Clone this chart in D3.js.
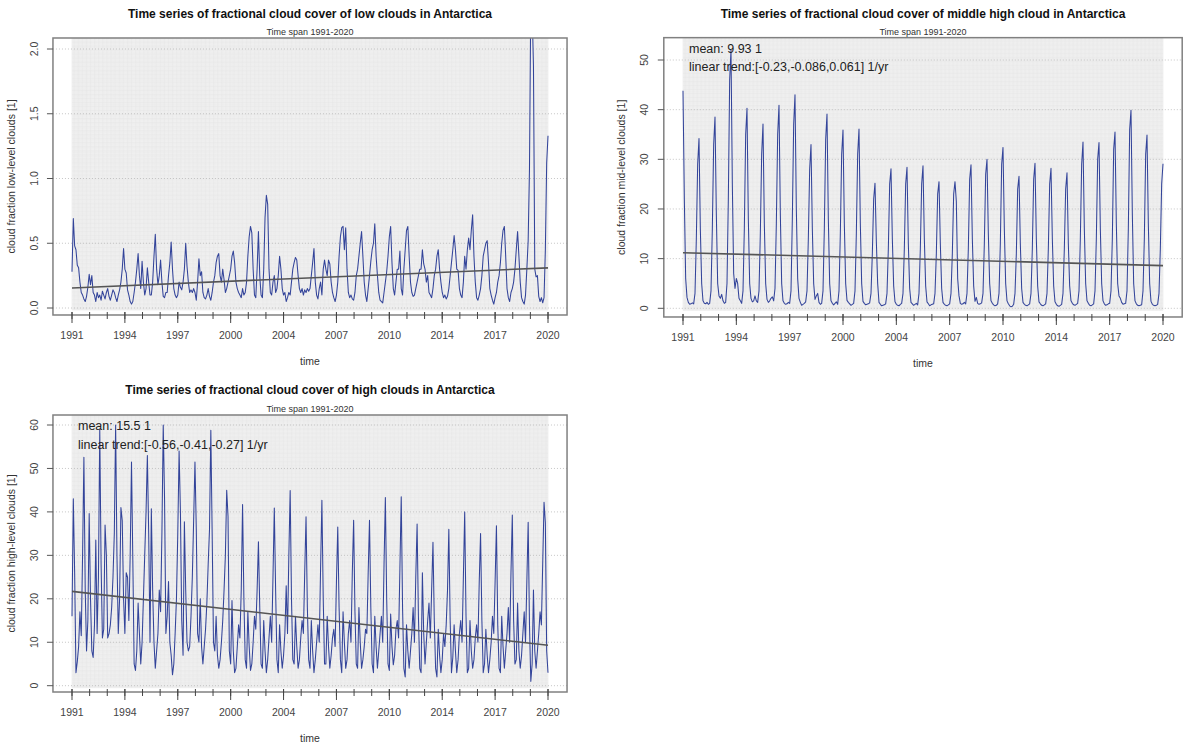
<!DOCTYPE html>
<html>
<head>
<meta charset="utf-8">
<script src="https://cdn.jsdelivr.net/npm/d3@7"></script>
<style>
  body { margin: 0; background: #fff; }
  svg { font-family: "Liberation Sans", Arial, sans-serif; }
</style>
</head>
<body>
<svg id="chart" width="1184" height="747"></svg>
<script>
// ============ data (monthly values, one row per year) ============ //
const xTickLabels = ["1991", "1994", "1997", "2000", "2004", "2007", "2010", "2014", "2017", "2020"];

const lowClouds = [
  0.28, 0.69, 0.48, 0.45, 0.33, 0.31, 0.2, 0.12, 0.1, 0.07, 0.05, 0.09,
  0.16, 0.26, 0.18, 0.25, 0.12, 0.1, 0.05, 0.12, 0.08, 0.1, 0.06, 0.13,
  0.1, 0.07, 0.12, 0.15, 0.09, 0.06, 0.1, 0.14, 0.12, 0.08, 0.05, 0.1,
  0.14, 0.2, 0.3, 0.46, 0.3, 0.27, 0.14, 0.1, 0.05, 0.03, 0.05, 0.12,
  0.2, 0.3, 0.42, 0.25, 0.15, 0.36, 0.2, 0.1, 0.15, 0.31, 0.2, 0.1,
  0.1, 0.2, 0.4, 0.57, 0.3, 0.18, 0.25, 0.37, 0.2, 0.09, 0.08, 0.12,
  0.12, 0.25, 0.35, 0.51, 0.3, 0.15, 0.1, 0.08, 0.1, 0.2, 0.16, 0.14,
  0.2, 0.3, 0.5, 0.32, 0.2, 0.12, 0.14, 0.12, 0.15, 0.12, 0.06, 0.2,
  0.38, 0.25, 0.28, 0.12, 0.08, 0.07, 0.1, 0.15, 0.09, 0.06, 0.12, 0.2,
  0.25, 0.35, 0.4, 0.42, 0.25, 0.2, 0.3, 0.22, 0.12, 0.15, 0.2, 0.25,
  0.3, 0.4, 0.44, 0.35, 0.2, 0.15, 0.12, 0.1, 0.08, 0.15, 0.1, 0.12,
  0.2, 0.4, 0.55, 0.63, 0.58, 0.3, 0.1, 0.08, 0.3, 0.59, 0.25, 0.1,
  0.08, 0.3, 0.7, 0.87, 0.8, 0.3, 0.12, 0.1, 0.2, 0.25, 0.12, 0.15,
  0.25, 0.4, 0.3, 0.15, 0.1, 0.12, 0.05, 0.08, 0.12, 0.1, 0.2, 0.3,
  0.35, 0.39, 0.37, 0.25, 0.15, 0.12, 0.15, 0.1, 0.14, 0.12, 0.15, 0.13,
  0.15, 0.25, 0.35, 0.46, 0.2, 0.1, 0.07, 0.15, 0.2, 0.1, 0.3, 0.37,
  0.3, 0.25, 0.37, 0.34, 0.2, 0.12, 0.08, 0.05, 0.1, 0.2, 0.4, 0.55,
  0.62, 0.63, 0.45, 0.62, 0.3, 0.12, 0.08, 0.1, 0.07, 0.06, 0.12, 0.25,
  0.3, 0.4, 0.5, 0.59, 0.4, 0.2, 0.1, 0.05, 0.15, 0.25, 0.36, 0.45,
  0.5, 0.65, 0.4, 0.25, 0.12, 0.06, 0.05, 0.04, 0.12, 0.2, 0.28, 0.4,
  0.55, 0.63, 0.35, 0.15, 0.1, 0.2, 0.3, 0.3, 0.44, 0.15, 0.1, 0.3,
  0.45, 0.6, 0.63, 0.4, 0.2, 0.12, 0.09, 0.1, 0.15, 0.2, 0.25, 0.3,
  0.3, 0.45, 0.34, 0.3, 0.2, 0.25, 0.12, 0.1, 0.08, 0.15, 0.25, 0.3,
  0.4, 0.45, 0.3, 0.2, 0.12, 0.08, 0.1, 0.07, 0.09, 0.15, 0.25, 0.35,
  0.45, 0.56, 0.45, 0.3, 0.29, 0.15, 0.1, 0.08, 0.2, 0.4, 0.3, 0.45,
  0.54, 0.45, 0.6, 0.72, 0.4, 0.2, 0.08, 0.06, 0.1, 0.15, 0.25, 0.4,
  0.45, 0.5, 0.52, 0.35, 0.15, 0.1, 0.06, 0.03, 0.08, 0.12, 0.2, 0.25,
  0.35, 0.5, 0.6, 0.63, 0.4, 0.15, 0.08, 0.05, 0.12, 0.15, 0.2, 0.3,
  0.45, 0.59, 0.4, 0.2, 0.08, 0.05, 0.03, 0.1, 0.3, 0.52, 1.08, 2.4,
  2.3, 1.87, 0.3, 0.24, 0.25, 0.09, 0.05, 0.08, 0.04, 0.08, 0.45, 1.12,
  1.33
];

const midClouds = [
  43.8, 22, 6, 2.2, 1.2, 0.8, 0.9, 1.1, 0.9, 3, 14, 29,
  34.2, 16, 5, 1.5, 1.0, 0.9, 1.2, 0.8, 1.0, 3.5, 16, 33,
  38.5, 19, 5, 2.5, 2.0, 2.8, 1.5, 1.0, 1.2, 5, 22, 46,
  52, 25, 7, 4, 6, 5, 2, 1.5, 1.0, 3.5, 16, 35,
  40.3, 18, 5, 2, 1.3, 1.5, 2.5, 1.5, 1.2, 3.5, 15, 31,
  37.1, 17, 5, 1.8, 1.2, 1.5, 2, 2.3, 1.5, 4, 17, 35,
  40.9, 19, 5, 1.5, 1.0, 0.8, 0.9, 1.2, 1.0, 3.5, 18, 37,
  43, 20, 6, 2, 1.2, 0.6, 0.8, 1.0, 1.3, 3.5, 14, 28,
  33, 16, 5, 1.8, 2.5, 3, 1.2, 0.8, 1.0, 3.5, 16, 34,
  39.1, 18, 5, 1.5, 1.0, 0.7, 1.0, 1.3, 0.8, 3.5, 15, 31,
  35.9, 17, 5, 1.6, 1.2, 0.9, 0.6, 0.8, 1.0, 3.5, 15, 31,
  36.1, 17, 5, 1.4, 1.0, 0.7, 0.8, 0.9, 1.1, 3, 11, 22,
  25.2, 13.5, 5, 1.2, 0.8, 0.5, 0.6, 0.7, 0.9, 3, 12, 25,
  28.1, 14, 4.5, 1.3, 0.8, 0.6, 0.5, 0.8, 1.0, 3, 12, 25,
  28.4, 13, 4, 1.2, 0.9, 0.6, 0.8, 1.0, 0.7, 3, 12, 25,
  28.7, 14, 4.5, 1.3, 0.9, 0.5, 0.7, 0.8, 0.9, 3, 11, 23,
  25.5, 13, 4, 1.2, 0.8, 0.6, 0.5, 0.7, 0.9, 3, 11, 23,
  25.5, 21.5, 6, 2.5, 1.0, 0.8, 0.9, 1.2, 0.9, 3, 12, 26,
  28.9, 14, 4.5, 1.4, 2.2, 1.0, 0.8, 0.9, 1.1, 3, 13, 27,
  30, 15, 5, 1.5, 1.0, 0.7, 0.5, 0.6, 0.9, 3, 13, 29,
  32.4, 16, 5, 1.5, 0.9, 0.5, 0.3, 0.4, 0.8, 3, 11, 24,
  26.6, 13, 4, 1.2, 0.8, 0.6, 0.5, 0.7, 0.9, 3, 12, 26,
  29.2, 14, 4.5, 1.3, 0.9, 0.6, 0.5, 0.7, 0.9, 3, 12, 25,
  28.2, 14, 4.5, 1.3, 0.8, 0.5, 0.4, 0.6, 0.8, 3, 12, 24,
  27.3, 13, 4.5, 1.5, 1.0, 0.7, 0.6, 0.8, 1.0, 3.5, 14, 29,
  33.5, 16, 5, 1.5, 1.0, 0.6, 0.5, 0.7, 0.9, 3.5, 14, 30,
  33.4, 16, 5, 1.5, 0.9, 0.6, 0.7, 0.9, 1.0, 3.5, 14, 32,
  35.5, 17, 5, 2.5, 2.0, 1.2, 0.8, 0.9, 1.0, 3.5, 16, 36,
  39.9, 19, 5, 1.5, 0.9, 0.6, 0.5, 0.6, 0.7, 3.5, 14, 31,
  34.9, 17, 5, 1.4, 0.8, 0.6, 0.5, 0.6, 0.8, 3, 12, 25,
  29.1
];

const highClouds = [
  16, 43, 26, 3, 5.5, 9, 17, 11.5, 30, 52.6, 22, 8,
  15, 39.6, 20, 8, 6.5, 14, 33.5, 12, 25, 59, 28, 11,
  13, 37, 30, 11, 12, 14, 18, 25, 35, 60, 30, 12,
  20, 41, 38, 20, 12, 26, 25, 15, 30, 51.5, 29, 5,
  3.5, 8, 19, 12, 5, 10, 20, 30, 40, 53, 35, 10,
  40.7, 22, 10, 4, 8, 12, 22, 17, 35, 60, 43, 12,
  16, 24, 10, 7, 2.5, 5, 12, 20, 35, 54, 40, 15,
  7, 37.7, 22, 10, 8, 9, 16, 25, 38, 51.5, 36, 12,
  10, 20, 9, 5, 9, 13, 19, 28, 36, 58.8, 35, 10,
  8, 16, 7, 4, 6, 10, 15, 22, 30, 45, 39, 8,
  5, 19.6, 8, 3, 4, 9, 14, 11, 22, 41.7, 20, 6,
  4, 17, 9, 3.5, 5, 10, 16, 13, 22, 33.1, 18, 5,
  4, 15, 8, 3, 6, 11, 16, 10, 25, 40.9, 22, 6,
  3, 14, 8, 4, 7, 12, 23, 12, 30, 44.9, 20, 6,
  5, 16, 9, 4, 6, 11, 15, 12, 26, 38.9, 18, 6,
  4, 15, 8, 3, 6, 10, 14, 10, 27, 42.7, 20, 5,
  5, 16, 9, 4, 7, 11, 13, 9, 24, 36.5, 18, 6,
  3, 17, 10, 4, 6, 12, 15, 10, 26, 38.1, 17, 5,
  4, 18, 10, 4, 6, 9, 13, 12, 26, 38.1, 18, 5,
  3, 16, 9, 4, 8, 12, 16, 10, 28, 43.3, 20, 5,
  3.5, 16.5, 9, 4.8, 7, 13, 15, 11, 27, 43.5, 18, 4,
  2, 14, 8, 4, 8, 12, 18, 10, 25, 37.2, 16, 4,
  3, 26, 12, 5, 10, 15, 19, 11, 22, 33, 15, 4,
  2, 13, 7, 3, 6, 12, 9, 14, 22, 36, 15, 3,
  6.5, 14, 8, 3, 6, 12, 15, 10, 25, 40, 16, 3,
  4, 15, 8, 4, 6, 11, 14, 10, 24, 35, 15, 3,
  5, 13, 7, 3, 6, 10, 16, 12, 24, 36.8, 14, 4,
  3, 16, 9, 4, 8, 12, 18, 10, 26, 39.3, 15, 5,
  6, 19, 8, 4, 7, 12, 17, 10, 24, 37.6, 14, 1,
  5, 22, 8, 4, 8, 12, 17, 14, 28, 42.2, 37.5, 8,
  3
];

// linear trend, value at first and last month
const lowTrend = [0.155, 0.31];
const midTrend = [11.2, 8.6];
const highTrend = [21.7, 9.3];

const lowYTicks = [0, 0.5, 1, 1.5, 2];
const midYTicks = [0, 10, 20, 30, 40, 50];
const highYTicks = [0, 10, 20, 30, 40, 50, 60];

// ==================== dessin ==================== //
const svg = d3.select("#chart");
const lineCol = "#33449a";

function drawPanel(p, id) {
  const nMonths = p.series.length - 1;
  const x = d3.scaleLinear().domain([0, nMonths]).range(p.xRange);
  const y = d3.scaleLinear().domain(p.yDomain).range(p.yRange);

  const pad = nMonths * 0.04;
  const bx0 = x(-pad), bx1 = x(nMonths + pad);
  const by0 = y(p.yBox[1]), by1 = y(p.yBox[0]);

  const g = svg.append("g");

  // fine grey grid behind the data
  const gTop = by0, gBot = y(0) + 2;
  const fine = g.append("g").attr("stroke", "#e0e0e0").attr("stroke-width", 0.5);
  fine.selectAll("line.v").data(d3.range(0, nMonths + 1))
    .join("line")
    .attr("x1", d => x(d)).attr("x2", d => x(d))
    .attr("y1", gTop).attr("y2", gBot);
  fine.selectAll("line.h").data(d3.range(gBot, gTop, -1.33))
    .join("line")
    .attr("x1", x(0)).attr("x2", x(nMonths))
    .attr("y1", d => d).attr("y2", d => d);

  // dotted major gridlines
  g.append("g").selectAll("line").data(p.yTicks).join("line")
    .attr("x1", bx0).attr("x2", bx1)
    .attr("y1", d => y(d)).attr("y2", d => y(d))
    .attr("stroke", "#b8b8b8").attr("stroke-width", 0.8)
    .attr("stroke-dasharray", "1,2");

  // clip
  svg.append("clipPath").attr("id", "clip" + id)
    .append("rect").attr("x", bx0).attr("y", by0)
    .attr("width", bx1 - bx0).attr("height", by1 - by0);

  const line = d3.line().x((d, i) => x(i)).y(d => y(d));
  g.append("path").datum(p.series)
    .attr("clip-path", `url(#clip${id})`)
    .attr("d", line)
    .attr("fill", "none").attr("stroke", lineCol).attr("stroke-width", 1.05)
    .attr("stroke-linejoin", "round");

  // trend
  g.append("line")
    .attr("x1", x(0)).attr("y1", y(p.trend[0]))
    .attr("x2", x(nMonths)).attr("y2", y(p.trend[1]))
    .attr("stroke", "#555").attr("stroke-width", 1.6);

  // box
  g.append("rect").attr("x", bx0).attr("y", by0)
    .attr("width", bx1 - bx0).attr("height", by1 - by0)
    .attr("fill", "none").attr("stroke", "#808080").attr("stroke-width", 1.5);

  // y axis ticks + labels
  g.append("g").selectAll("line").data(p.yTicks).join("line")
    .attr("x1", bx0 - 6).attr("x2", bx0)
    .attr("y1", d => y(d)).attr("y2", d => y(d))
    .attr("stroke", "#555").attr("stroke-width", 1);
  g.append("g").selectAll("text").data(p.yTicks).join("text")
    .attr("transform", d => `translate(${bx0 - 19},${y(d)}) rotate(-90)`)
    .attr("text-anchor", "middle").attr("dy", "0.35em")
    .attr("font-size", 10.5).attr("fill", "#444")
    .text(d => p.yFmt(d));

  // x axis ticks (major + minor)
  const majors = xTickLabels.map((l, i) => i * nMonths / (xTickLabels.length - 1));
  const minors = d3.range(0, 28).map(i => i * nMonths / 27);
  g.append("g").selectAll("line").data(minors).join("line")
    .attr("x1", d => x(d)).attr("x2", d => x(d))
    .attr("y1", by1 - 3).attr("y2", by1 + 4)
    .attr("stroke", "#444").attr("stroke-width", 1);
  g.append("g").selectAll("line").data(majors).join("line")
    .attr("x1", d => x(d)).attr("x2", d => x(d))
    .attr("y1", by1 - 3).attr("y2", by1 + 8)
    .attr("stroke", "#444").attr("stroke-width", 1);
  g.append("g").selectAll("text").data(majors).join("text")
    .attr("x", d => x(d)).attr("y", by1 + 24)
    .attr("text-anchor", "middle")
    .attr("font-size", 10.5).attr("fill", "#444")
    .text((d, i) => xTickLabels[i]);

  const cx = (bx0 + bx1) / 2;
  g.append("text").attr("x", cx).attr("y", p.titleY)
    .attr("text-anchor", "middle").attr("font-weight", "bold")
    .attr("font-size", 12).attr("fill", "#111").text(p.title);
  g.append("text").attr("x", cx).attr("y", by0 - 3)
    .attr("text-anchor", "middle")
    .attr("font-size", 9).attr("fill", "#333").text("Time span 1991-2020");
  g.append("text").attr("x", cx).attr("y", by1 + 50)
    .attr("text-anchor", "middle")
    .attr("font-size", 10.5).attr("fill", "#333").text("time");
  g.append("text")
    .attr("transform", `translate(${bx0 - 42},${(by0 + by1) / 2}) rotate(-90)`)
    .attr("text-anchor", "middle").attr("dy", "0.35em")
    .attr("font-size", 10.5).attr("fill", "#333").text(p.ylab);

  // mean / trend notes
  (p.notes || []).forEach((t, i) => {
    g.append("text").attr("x", x(0) + 6).attr("y", by0 + 15 + i * 18.5)
      .attr("font-size", 12.5).attr("fill", "#222").text(t);
  });
}

drawPanel({
  series: lowClouds, trend: lowTrend, yTicks: lowYTicks,
  yFmt: d3.format(".1f"),
  xRange: [72, 548], yDomain: [0, 2], yRange: [308, 49], yBox: [-0.054, 2.085],
  title: "Time series of fractional cloud cover of low clouds in Antarctica", titleY: 18,
  ylab: "cloud fraction low-level clouds [1]"
}, 1);

drawPanel({
  series: midClouds, trend: midTrend, yTicks: midYTicks,
  yFmt: d3.format("d"),
  xRange: [683, 1163], yDomain: [0, 50], yRange: [308.3, 60], yBox: [-1.75, 54.5],
  title: "Time series of fractional cloud cover of middle high cloud in Antarctica", titleY: 18,
  ylab: "cloud fraction mid-level clouds [1]",
  notes: ["mean: 9.93 1", "linear trend:[-0.23,-0.086,0.061] 1/yr"]
}, 2);

drawPanel({
  series: highClouds, trend: highTrend, yTicks: highYTicks,
  yFmt: d3.format("d"),
  xRange: [72, 548], yDomain: [0, 60], yRange: [685.7, 425], yBox: [-1.45, 62.3],
  title: "Time series of fractional cloud cover of high clouds in Antarctica", titleY: 394,
  ylab: "cloud fraction high-level clouds [1]",
  notes: ["mean: 15.5 1", "linear trend:[-0.56,-0.41,-0.27] 1/yr"]
}, 3);
</script>
</body>
</html>
